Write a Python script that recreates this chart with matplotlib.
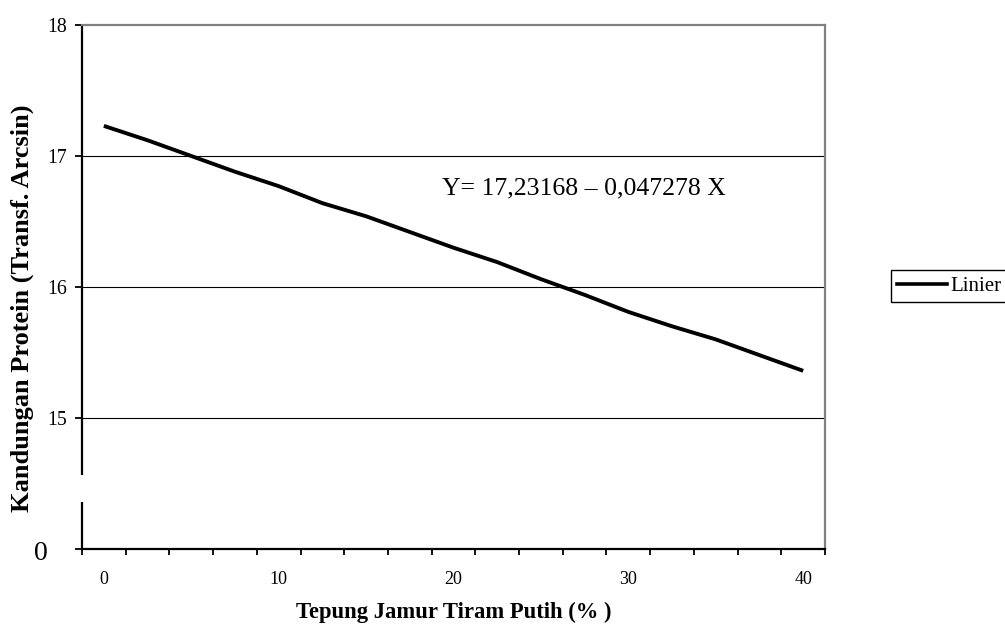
import matplotlib.pyplot as plt
from matplotlib.lines import Line2D

plt.rcParams['font.family'] = ['Liberation Serif', 'DejaVu Serif']

# values
tepung = [0, 2.5, 5, 7.5, 10, 12.5, 15, 17.5, 20, 22.5, 25, 27.5, 30, 32.5, 35, 37.5, 40]
protein = [17.23, 17.12, 17.00, 16.88, 16.77, 16.64, 16.54, 16.42, 16.30,
           16.19, 16.06, 15.94, 15.81, 15.70, 15.60, 15.48, 15.36]
x_tick_labels = ['0', '10', '20', '30', '40']
y_ticks = [14, 15, 16, 17, 18]
y_tick_labels = ['', '15', '16', '17', '18']
grid_levels = [15, 16, 17]
persamaan = 'Y= 17,23168 \u2013 0,047278 X'

fig = plt.figure(figsize=(10.05, 6.3), dpi=100)
ax = fig.add_axes([0.0816, 0.1286, 0.7393, 0.8317])

half = (tepung[1] - tepung[0]) / 2
x_lo, x_hi = tepung[0] - half, tepung[-1] + half
ax.set_xlim(x_lo, x_hi)
ax.set_ylim(y_ticks[0], y_ticks[-1])

for g in grid_levels:
    ax.axhline(g, color='black', lw=0.8, zorder=1)

ax.plot(tepung, protein, color='black', lw=2.8, solid_capstyle='butt', zorder=3)

# spines: gray top/right, black bottom, left axis drawn broken
ax.spines['top'].set_color('#808080')
ax.spines['right'].set_color('#808080')
ax.spines['top'].set_linewidth(1.6)
ax.spines['right'].set_linewidth(1.6)
ax.spines['bottom'].set_linewidth(1.6)
ax.spines['left'].set_visible(False)
ax.plot([x_lo, x_lo], [14, 14.36], color='black', lw=1.6, clip_on=False, solid_capstyle='butt')
ax.plot([x_lo, x_lo], [14.565, 18], color='black', lw=1.6, clip_on=False, solid_capstyle='butt')

# x axis: labels at category centres, marks at category edges
ax.set_xticks(tepung[::4])
ax.set_xticklabels(x_tick_labels)
ax.set_xticks([t - half for t in tepung] + [x_hi], minor=True)
ax.tick_params(axis='x', which='major', length=0, pad=16, labelsize=13)
ax.tick_params(axis='x', which='minor', length=4, width=1.3, direction='out')

ax.set_yticks(y_ticks)
ax.set_yticklabels(y_tick_labels)
ax.tick_params(axis='y', length=5, width=1.3, pad=6, labelsize=14.3)
ax.text(-0.0458, -0.009, '0', transform=ax.transAxes, ha='right', va='center', fontsize=20)

ax.text(0.4845, 0.689, persamaan, transform=ax.transAxes, ha='left', va='center', fontsize=18.5)

fig.text(453.5 / 1005, 1 - 612 / 630, 'Tepung Jamur Tiram Putih (% )',
         ha='center', va='center', fontsize=16.3, fontweight='bold')
fig.text(22 / 1005, 1 - 308 / 630, 'Kandungan Protein (Transf. Arcsin)',
         ha='center', va='center', rotation=90, fontsize=19, fontweight='bold')

leg = fig.legend(handles=[Line2D([0], [0], color='black', lw=2.6)], labels=['Linier'],
                 loc='upper left', bbox_to_anchor=(891 / 1005, 1 - 270 / 630),
                 frameon=True, fancybox=False, edgecolor='black', framealpha=1,
                 borderaxespad=0, fontsize=15, handlelength=2.4, handletextpad=0.15,
                 borderpad=0.3)
leg.get_frame().set_linewidth(1.0)

fig.savefig('out.png', dpi=100)
